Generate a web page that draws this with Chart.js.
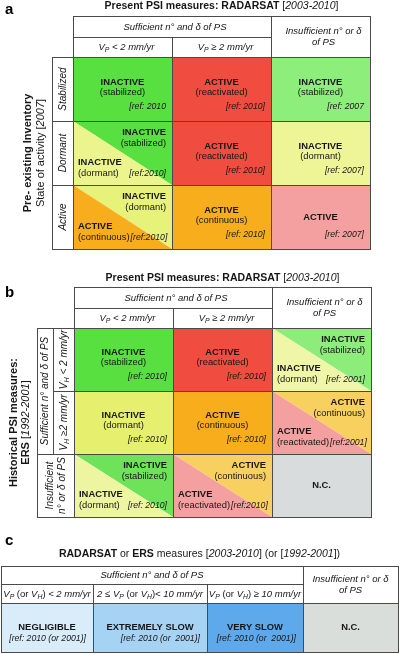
<!DOCTYPE html>
<html><head><meta charset="utf-8">
<script src="https://cdn.jsdelivr.net/npm/chart.js@4.4.0/dist/chart.umd.min.js"></script>
<style>
html,body{margin:0;padding:0;background:#fff;width:400px;height:654px;overflow:hidden}
canvas{position:absolute;left:0;display:block}
</style></head><body>
<canvas id="ca" width="400" height="254" style="top:0"></canvas>
<canvas id="cb" width="400" height="266" style="top:254px"></canvas>
<canvas id="cc" width="400" height="134" style="top:520px"></canvas>
<script>
// ---------------- data ----------------
// markup inside labels: ^ toggles bold, ~ toggles italic, _X subscripts X
const STATES = {
  stab:  ['INACTIVE', '(stabilized)'],
  dorm:  ['INACTIVE', '(dormant)'],
  cont:  ['ACTIVE', '(continuous)'],
  react: ['ACTIVE', '(reactivated)'],
  act:   ['ACTIVE', ''],
  nc:    ['N.C.', '']
};

// Panel a
const aLetter = 'a';
const aTitle = '^Present PSI measures: RADARSAT^ [~2003-2010~]';
const aSideTitle = ['^Pre- existing Inventory^', 'State of activity [~2007~]'];
const aGroupHead = 'Sufficient n° and δ of PS';
const aColHeads = ['V_P < 2 mm/yr', 'V_P ≥ 2 mm/yr'];
const aInsuffHead = ['Insufficient n° or δ', 'of PS'];
const aRowHeads = ['Stabilized', 'Dormant', 'Active'];
// per cell: [upper-right state, lower-left state (if split)]
const aStates = [
  [['stab'], ['react'], ['stab']],
  [['stab', 'dorm'], ['react'], ['dorm']],
  [['dorm', 'cont'], ['cont'], ['act']]
];
const aRefs = [
  ['[ref: 2010', '[ref: 2010]', '[ref: 2007'],
  ['[ref:2010]', '[ref: 2010]', '[ref: 2007]'],
  ['[ref:2010]', '[ref: 2010]', '[ref: 2007]']
];

// Panel b
const bLetter = 'b';
const bTitle = '^Present PSI measures: RADARSAT^ [~2003-2010~]';
const bSideTitle = ['^Historical PSI measures:^', '^ERS^ [~1992-2001~]'];
const bGroupHead = 'Sufficient n° and δ of PS';
const bColHeads = ['V_P < 2 mm/yr', 'V_P ≥ 2 mm/yr'];
const bInsuffHead = ['Insufficient n° or δ', 'of PS'];
const bRowGroupHead = 'Sufficient n° and δ of PS';
const bRowHeads = ['V_H < 2 mm/yr', 'V_H ≥2 mm/yr'];
const bInsuffRowHead = ['Insufficient', 'n° or δ of PS'];
const bStates = [
  [['stab'], ['react'], ['stab', 'dorm']],
  [['dorm'], ['cont'], ['cont', 'react']],
  [['stab', 'dorm'], ['cont', 'react'], ['nc']]
];
const bRefs = [
  ['[ref: 2010]', '[ref: 2010]', '[ref: 2001]'],
  ['[ref: 2010]', '[ref: 2010]', '[ref:2001]'],
  ['[ref: 2010]', '[ref:2010]', '']
];

// Panel c
const cLetter = 'c';
const cTitle = '^RADARSAT^ or ^ERS^ measures [~2003-2010~] (or [~1992-2001~])';
const cGroupHead = 'Sufficient n° and δ of PS';
const cColHeads = ['~V_P~ (or ~V_H~) ~< 2 mm/yr~', '~2 ≤ V_P~ (or ~V_H~)~< 10 mm/yr~', '~V_P~ (or ~V_H~) ~≥ 10 mm/yr~'];
const cInsuffHead = ['Insufficient n° or δ', 'of PS'];
const cClasses = ['NEGLIGIBLE', 'EXTREMELY SLOW', 'VERY SLOW', 'N.C.'];
const cRefs = ['[ref: 2010 (or 2001)]', '[ref: 2010 (or  2001)]', '[ref: 2010 (or  2001)]', ''];

// ---------------- styles ----------------
const FONT = '"Liberation Sans", Arial, Helvetica, sans-serif';
const INK = '#161616';
const LINE = '#4a4a4a';
const aFill = [
  [['#58e040'], ['#f04c40'], ['#8eee7c']],
  [['#58e040', '#ecf48e'], ['#f04c40'], ['#eef597']],
  [['#e6f27a', '#f7ad1c'], ['#f7ad1c'], ['#f4a0a0']]
];
const bFill = [
  [['#58e040'], ['#f04c40'], ['#8eec7a', '#f0f6a8']],
  [['#e6ef6e'], ['#f7ad1c'], ['#f8d060', '#f4a0a0']],
  [['#6ee35a', '#eef5a0'], ['#f8d060', '#f4a0a0'], ['#d8dcdc']]
];
const cFill = ['#d8ecf9', '#a6d3f4', '#5ea9ec', '#d9dedb'];
const cColW = [92, 114, 96, 95]; // relative column widths (layout)
const SZ_B = 9.4, SZ_N = 9.4, SZ_R = 8.7;

// ---------------- text helpers ----------------
function parseRich(str, base) {
  const segs = []; let b = base.b, i = base.i, cur = '';
  for (let k = 0; k < str.length; k++) {
    const ch = str[k];
    if (ch === '^' || ch === '~' || ch === '_') {
      if (cur) { segs.push({t: cur, b, i, s: false}); cur = ''; }
      if (ch === '^') b = !b;
      else if (ch === '~') i = !i;
      else { k++; segs.push({t: str[k], b, i, s: true}); }
      continue;
    }
    cur += ch;
  }
  if (cur) segs.push({t: cur, b, i, s: false});
  return segs;
}
function fontOf(s, size) {
  const sz = s.s ? size * 0.72 : size;
  return (s.i ? 'italic ' : '') + (s.b ? 'bold ' : '') + sz + 'px ' + FONT;
}
function richWidth(ctx, str, opt) {
  const size = opt.size || 9; let w = 0;
  for (const s of parseRich(str, {b: !!opt.b, i: !!opt.i})) { ctx.font = fontOf(s, size); w += ctx.measureText(s.t).width; }
  return w;
}
function drawRich(ctx, str, x, y, opt) {
  const size = opt.size || 9;
  const segs = parseRich(str, {b: !!opt.b, i: !!opt.i});
  const w = richWidth(ctx, str, opt);
  let x0 = opt.align === 'left' ? x : opt.align === 'right' ? x - w : x - w / 2;
  ctx.textBaseline = 'middle'; ctx.textAlign = 'left'; ctx.fillStyle = opt.color || INK;
  for (const s of segs) {
    ctx.font = fontOf(s, size);
    ctx.fillText(s.t, x0, y + (s.s ? size * 0.3 : 0));
    x0 += ctx.measureText(s.t).width;
  }
  return w;
}
function drawRot(ctx, str, x, y, opt) {
  ctx.save(); ctx.translate(x, y); ctx.rotate(-Math.PI / 2);
  drawRich(ctx, str, 0, 0, opt); ctx.restore();
}
function letter(ctx, t, x, y) {
  ctx.fillStyle = '#000'; ctx.font = 'bold 15px ' + FONT;
  ctx.textBaseline = 'alphabetic'; ctx.textAlign = 'left'; ctx.fillText(t, x, y);
}
function lines(ctx, segs) {
  ctx.strokeStyle = LINE; ctx.lineWidth = 1; ctx.beginPath();
  for (const [x0, y0, x1, y1] of segs) {
    if (x0 === x1) { const x = Math.round(x0) + 0.5; ctx.moveTo(x, Math.round(y0)); ctx.lineTo(x, Math.round(y1) + 1); }
    else { const y = Math.round(y0) + 0.5; ctx.moveTo(Math.round(x0), y); ctx.lineTo(Math.round(x1) + 1, y); }
  }
  ctx.stroke();
}
function tri(ctx, pts, color) {
  ctx.fillStyle = color; ctx.beginPath(); ctx.moveTo(pts[0][0], pts[0][1]);
  ctx.lineTo(pts[1][0], pts[1][1]); ctx.lineTo(pts[2][0], pts[2][1]); ctx.closePath(); ctx.fill();
}

// ---------------- cell drawing ----------------
function drawCellAB(ctx, x0, y0, x1, y1, st, ref, fill) {
  const h = y1 - y0, w = x1 - x0;
  if (st.length === 2) {
    tri(ctx, [[x0, y0], [x1, y0], [x1, y1]], fill[0]);
    tri(ctx, [[x0, y0], [x0, y1], [x1, y1]], fill[1]);
    const U = STATES[st[0]], L = STATES[st[1]];
    drawRich(ctx, U[0], x1 - 6, y0 + h * 0.18, {size: SZ_B, b: true, align: 'right'});
    drawRich(ctx, U[1], x1 - 6, y0 + h * 0.355, {size: SZ_N, align: 'right'});
    drawRich(ctx, L[0], x0 + 5, y0 + h * 0.645, {size: SZ_B, b: true, align: 'left'});
    const lw = drawRich(ctx, L[1], x0 + 5, y0 + h * 0.815, {size: SZ_N, align: 'left'});
    if (ref) {
      const ro = {size: SZ_R, i: true, align: 'right'};
      const rw = richWidth(ctx, ref, ro);
      let rx = x1 - 6;
      if (x0 + 5 + lw + 2 > rx - rw) rx = x0 + 5 + lw + 1 + rw;
      drawRich(ctx, ref, rx, y0 + h * 0.815, ro);
    }
  } else {
    ctx.fillStyle = fill[0]; ctx.fillRect(x0, y0, w, h);
    const U = STATES[st[0]], cx = (x0 + x1) / 2;
    if (U[1]) {
      drawRich(ctx, U[0], cx, y0 + h * 0.39, {size: SZ_B, b: true});
      drawRich(ctx, U[1], cx, y0 + h * 0.55, {size: SZ_N});
    } else {
      drawRich(ctx, U[0], cx, y0 + h * 0.5, {size: SZ_B, b: true});
    }
    if (ref) drawRich(ctx, ref, x1 - 6, y0 + h * 0.775, {size: SZ_R, i: true, align: 'right'});
  }
}

function drawGridAB(chart, ctx, P) {
  const X = v => chart.scales.x.getPixelForValue(v), Y = v => chart.scales.y.getPixelForValue(v);
  const gx = [0, 1, 2, 3].map(X), gy = [0, 1, 2, 3].map(Y);
  const top = gy[0] - 41, mid = gy[0] - 20;
  letter(ctx, P.letter, 5, top - 2 + P.letterDy);
  drawRich(ctx, P.title, (gx[0] + gx[3]) / 2, top - 10 + P.titleDy, {size: 10.5});
  for (let r = 0; r < 3; r++) for (let c = 0; c < 3; c++)
    drawCellAB(ctx, gx[c], gy[r], gx[c + 1], gy[r + 1], P.states[r][c], P.refs[r][c], P.fill[r][c]);
  // column headers
  drawRich(ctx, P.group, (gx[0] + gx[2]) / 2 + 3, (top + mid) / 2 + 0.5, {size: 9.5, i: true});
  P.cols.forEach((t, k) => drawRich(ctx, t, (gx[k] + gx[k + 1]) / 2 + 4, (mid + gy[0]) / 2 + 0.5, {size: 9.5, i: true}));
  const ic = (gx[2] + gx[3]) / 2 + 3, iy = (top + gy[0]) / 2;
  drawRich(ctx, P.insuff[0], ic, iy - 5.5, {size: 9.5, i: true});
  drawRich(ctx, P.insuff[1], ic, iy + 5.5, {size: 9.5, i: true});
  return {gx, gy, top, mid};
}

function drawA(chart, ctx) {
  const G = drawGridAB(chart, ctx, {letter: aLetter, letterDy: 0, title: aTitle, titleDy: 0,
    states: aStates, refs: aRefs, fill: aFill, group: aGroupHead, cols: aColHeads, insuff: aInsuffHead});
  const {gx, gy, top, mid} = G;
  const lab = gx[0] - 21;
  aRowHeads.forEach((t, r) => drawRot(ctx, t, (lab + gx[0]) / 2 + 1, (gy[r] + gy[r + 1]) / 2, {size: 10, i: true}));
  const cy = (gy[0] + gy[3]) / 2;
  drawRot(ctx, aSideTitle[0], lab - 24, cy, {size: 11});
  drawRot(ctx, aSideTitle[1], lab - 11, cy, {size: 11});
  const segs = [
    [gx[0], top, gx[3], top], [gx[0], mid, gx[2], mid],
    [gx[1], mid, gx[1], gy[0]], [gx[2], top, gx[2], gy[0]], [gx[3], top, gx[3], gy[0]], [gx[0], top, gx[0], gy[0]],
    [lab, gy[0], lab, gy[3]]
  ];
  gx.forEach(x => segs.push([x, gy[0], x, gy[3]]));
  gy.forEach(y => segs.push([lab, y, gx[3], y]));
  lines(ctx, segs);
}

function drawB(chart, ctx) {
  const G = drawGridAB(chart, ctx, {letter: bLetter, letterDy: 12, title: bTitle, titleDy: 1,
    states: bStates, refs: bRefs, fill: bFill, group: bGroupHead, cols: bColHeads, insuff: bInsuffHead});
  const {gx, gy, top, mid} = G;
  const inner = gx[0] - 21, outer = inner - 16;
  drawRot(ctx, bRowGroupHead, (outer + inner) / 2 + 0.5, (gy[0] + gy[2]) / 2, {size: 10, i: true});
  bRowHeads.forEach((t, r) => drawRot(ctx, t, (inner + gx[0]) / 2 + 0.5, (gy[r] + gy[r + 1]) / 2, {size: 10, i: true}));
  const iy = (gy[2] + gy[3]) / 2;
  drawRot(ctx, bInsuffRowHead[0], outer + 13, iy, {size: 10, i: true});
  drawRot(ctx, bInsuffRowHead[1], outer + 25, iy, {size: 10, i: true});
  const cy = (gy[0] + gy[3]) / 2;
  drawRot(ctx, bSideTitle[0], outer - 23, cy, {size: 11});
  drawRot(ctx, bSideTitle[1], outer - 11, cy, {size: 11});
  const segs = [
    [gx[0], top, gx[3], top], [gx[0], mid, gx[2], mid],
    [gx[1], mid, gx[1], gy[0]], [gx[2], top, gx[2], gy[0]], [gx[3], top, gx[3], gy[0]], [gx[0], top, gx[0], gy[0]],
    [outer, gy[0], outer, gy[3]], [inner, gy[0], inner, gy[2]],
    [outer, gy[0], gx[3], gy[0]], [inner, gy[1], gx[3], gy[1]],
    [outer, gy[2], gx[3], gy[2]], [outer, gy[3], gx[3], gy[3]]
  ];
  gx.forEach(x => segs.push([x, gy[0], x, gy[3]]));
  lines(ctx, segs);
}

function drawC(chart, ctx) {
  const X = v => chart.scales.x.getPixelForValue(v), Y = v => chart.scales.y.getPixelForValue(v);
  const edges = [0]; cColW.forEach(w => edges.push(edges[edges.length - 1] + w));
  const gx = edges.map(X), y0 = Y(0), y1 = Y(1), h = y1 - y0;
  const top = y0 - 37, mid = y0 - 19;
  letter(ctx, cLetter, 5, top - 21);
  drawRich(ctx, cTitle, (gx[0] + gx[4]) / 2, top - 12, {size: 10.5});
  cClasses.forEach((t, k) => {
    ctx.fillStyle = cFill[k]; ctx.fillRect(gx[k], y0, gx[k + 1] - gx[k], h);
    drawRich(ctx, t, (gx[k] + gx[k + 1]) / 2, y0 + h * 0.49, {size: SZ_B, b: true});
    if (cRefs[k]) drawRich(ctx, cRefs[k], gx[k + 1] - 7, y0 + h * 0.735, {size: SZ_R, i: true, align: 'right'});
  });
  drawRich(ctx, cGroupHead, (gx[0] + gx[3]) / 2, (top + mid) / 2 + 0.5, {size: 9.5, i: true});
  cColHeads.forEach((t, k) => drawRich(ctx, t, (gx[k] + gx[k + 1]) / 2, (mid + y0) / 2 + 0.5, {size: 9.5}));
  const ic = (gx[3] + gx[4]) / 2, iy = (top + y0) / 2;
  drawRich(ctx, cInsuffHead[0], ic, iy - 5, {size: 9.5, i: true});
  drawRich(ctx, cInsuffHead[1], ic, iy + 6, {size: 9.5, i: true});
  const segs = [
    [gx[0], top, gx[4], top], [gx[0], mid, gx[3], mid], [gx[0], y0, gx[4], y0], [gx[0], y1, gx[4], y1],
    [gx[0], top, gx[0], y1], [gx[3], top, gx[3], y1], [gx[4], top, gx[4], y1],
    [gx[1], mid, gx[1], y1], [gx[2], mid, gx[2], y1]
  ];
  lines(ctx, segs);
}

// ---------------- charts ----------------
function makeChart(id, pad, xMax, yMax, drawFn) {
  return new Chart(document.getElementById(id), {
    type: 'scatter',
    data: {datasets: [{data: []}]},
    options: {
      responsive: false, animation: false, devicePixelRatio: 1, events: [],
      layout: {padding: pad},
      plugins: {legend: {display: false}, tooltip: {enabled: false}, title: {display: false}},
      scales: {
        x: {type: 'linear', min: 0, max: xMax, display: false},
        y: {type: 'linear', min: 0, max: yMax, reverse: true, display: false}
      }
    },
    plugins: [{id: 'tableDraw', afterDraw(chart) { chart.ctx.save(); drawFn(chart, chart.ctx); chart.ctx.restore(); }}]
  });
}
makeChart('ca', {left: 73, right: 30, top: 57, bottom: 5}, 3, 3, drawA);
makeChart('cb', {left: 74, right: 29, top: 74, bottom: 3}, 3, 3, drawB);
makeChart('cc', {left: 1, right: 2, top: 83, bottom: 2}, cColW.reduce((a, b) => a + b, 0), 1, drawC);
</script></body></html>
